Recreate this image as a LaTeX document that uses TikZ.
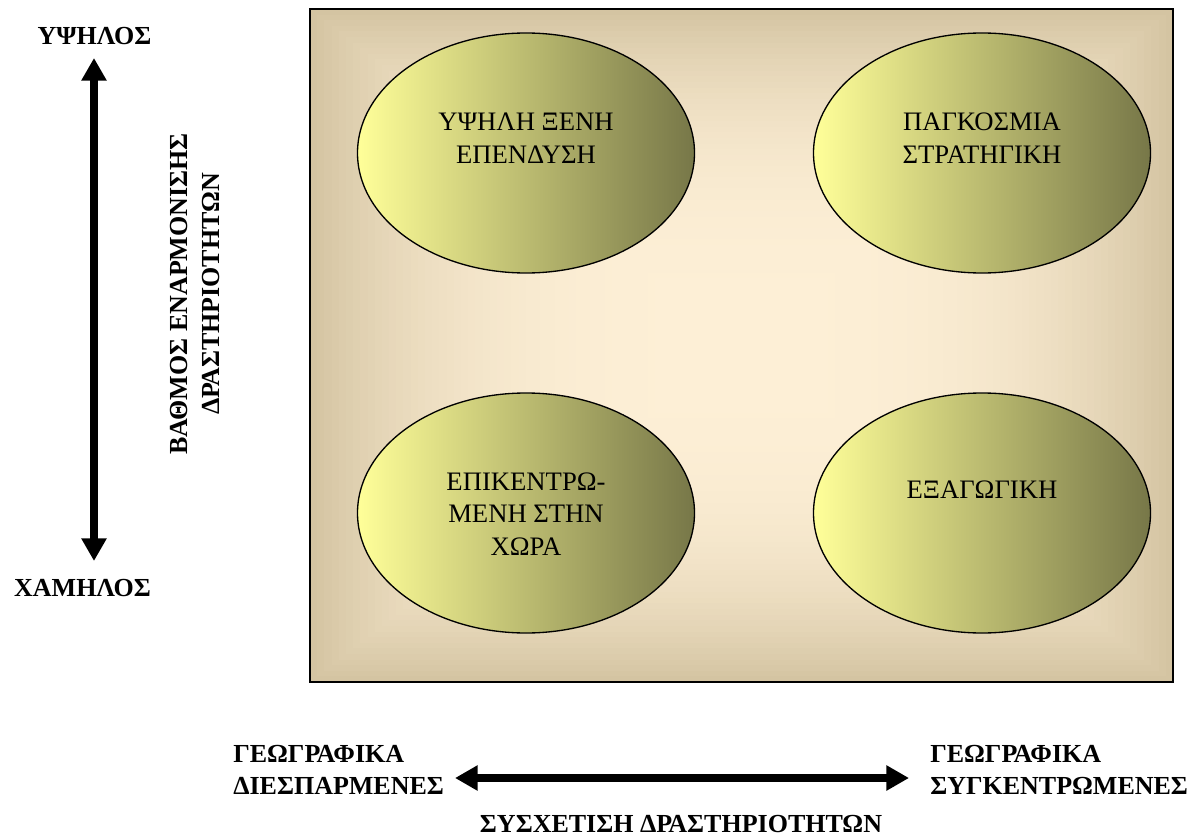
\documentclass[tikz,border=0pt]{standalone}
\usepackage{fontspec}
\setmainfont{Liberation Serif}
\usetikzlibrary{shapes.geometric,arrows.meta,positioning}

\definecolor{boxedge}{RGB}{212,196,162}
\definecolor{boxmid}{RGB}{253,239,214}
\definecolor{ovlight}{RGB}{255,255,153}
\definecolor{ovdark}{RGB}{119,119,72}

\tikzset{
  oval/.style={ellipse, draw=black, line width=1pt, minimum width=252.75pt,
    minimum height=180pt, inner sep=0pt, left color=ovlight, right color=ovdark},
  ovaltext/.style={align=center, inner sep=0pt, font=\fontsize{20}{24.5}\selectfont},
  axislabel/.style={inner sep=0pt, font=\fontsize{19.5}{24}\selectfont\bfseries},
  axisarrow/.style={line width=6pt,
    {Triangle[width=18pt,length=17pt]}-{Triangle[width=18pt,length=17pt]}}
}

\begin{document}
\begin{tikzpicture}[x=0.75pt,y=-0.75pt]
    \useasboundingbox (0,0) rectangle (1195,838);

    % Board
    \foreach \i in {0,...,59}{
      \pgfmathsetmacro{\f}{\i/60}
      \pgfmathsetmacro{\p}{100*(1-(1-\f)^3)}
      \fill[boxmid!\p!boxedge] ({741.5-431.5*(1-\f)},{345.5-336.5*(1-\f)})
        rectangle ({741.5+431.5*(1-\f)},{345.5+336.5*(1-\f)});
    }
    \node[draw, line width=1.2pt, minimum width=647.25pt, minimum height=504.75pt,
      inner sep=0pt] (board) at (741.5,345.5) {};

    % Strategies
    \node[oval] (hfi) at (526,153) {};
    \node[oval] (glob) at (982,153) {};
    \node[oval] (home) at (526,513) {};
    \node[oval] (expo) at (982,513) {};
    \node[ovaltext] (hfitxt) at (526,138) {ΥΨΗΛΗ ΞΕΝΗ\\ΕΠΕΝΔΥΣΗ};
    \node[ovaltext] (globtxt) at (982,138) {ΠΑΓΚΟΣΜΙΑ\\ΣΤΡΑΤΗΓΙΚΗ};
    \node[ovaltext] (hometxt) at (526,514) {ΕΠΙΚΕΝΤΡΩ-\\ΜΕΝΗ ΣΤΗΝ\\ΧΩΡΑ};
    \node[ovaltext] (expotxt) at (982,490) {ΕΞΑΓΩΓΙΚΗ};

    % Vertical axis
    \node[axislabel] (high) at (94.5,36.5) {ΥΨΗΛΟΣ};
    \node[axislabel] (low) at (82.5,588) {ΧΑΜΗΛΟΣ};
    \coordinate (htip) at (94,58);
    \coordinate (ltip) at (94,561);
    \draw[axisarrow] (ltip) -- (htip);
    \node[axislabel, rotate=90, align=center] (vlabel) at (195,294)
      {ΒΑΘΜΟΣ ΕΝΑΡΜΟΝΙΣΗΣ\\ΔΡΑΣΤΗΡΙΟΤΗΤΩΝ};

    % Horizontal axis
    \node[axislabel, align=left, anchor=west] (spread) at (233,770)
      {ΓΕΩΓΡΑΦΙΚΑ\\ΔΙΕΣΠΑΡΜΕΝΕΣ};
    \node[axislabel, align=left, anchor=west] (conc) at (930,770)
      {ΓΕΩΓΡΑΦΙΚΑ\\ΣΥΓΚΕΝΤΡΩΜΕΝΕΣ};
    \coordinate (wtip) at (455,778);
    \coordinate (etip) at (909,778);
    \draw[axisarrow] (wtip) -- (etip);
    \node[axislabel] (hlabel) at (681,824) {ΣΥΣΧΕΤΙΣΗ ΔΡΑΣΤΗΡΙΟΤΗΤΩΝ};
\end{tikzpicture}
\end{document}
